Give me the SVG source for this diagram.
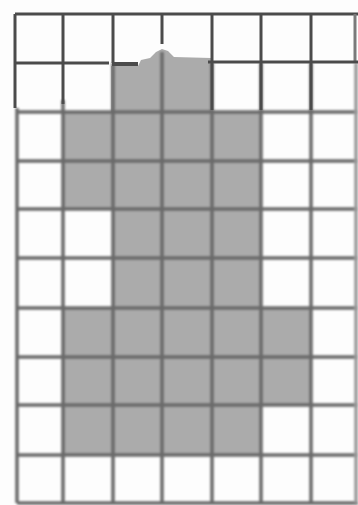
<svg xmlns="http://www.w3.org/2000/svg" width="358" height="505" viewBox="0 0 358 505">
  <defs>
    <filter id="soft" x="-5%" y="-5%" width="110%" height="110%">
      <feGaussianBlur stdDeviation="1.1"/>
    </filter>
    <filter id="softer" x="-5%" y="-5%" width="110%" height="110%">
      <feGaussianBlur stdDeviation="0.6"/>
    </filter>
  </defs>
  <style>
    .cell { fill: #ababab; }
    .grid { stroke: #6a6a6a; stroke-width: 3.5; fill: none; }
    .top { stroke: #4c4c4c; stroke-width: 3; fill: none; }
  </style>
  <rect x="0" y="0" width="358" height="505" fill="#fdfdfd"/>
  <g id="shaded-cells" filter="url(#softer)">
    <polygon class="cell" points="111,66 138,66 141,60 150,58 156,52 162,49 168,51 174,57 211,58 211,112 111,112"/>
    <rect class="cell" x="63" y="112" width="198" height="49"/>
    <rect class="cell" x="63" y="161" width="198" height="48"/>
    <rect class="cell" x="113" y="209" width="148" height="49"/>
    <rect class="cell" x="113" y="258" width="148" height="50"/>
    <rect class="cell" x="63" y="308" width="248" height="49"/>
    <rect class="cell" x="63" y="357" width="248" height="48"/>
    <rect class="cell" x="63" y="405" width="198" height="50"/>
  </g>
  <g id="lower-grid" class="grid" filter="url(#soft)">
    <path d="M17,112 H358 M17,161 H358 M17,209 H358 M17,258 H358 M17,308 H358 M17,357 H358 M17,405 H358 M17,455 H358 M17,503 H358"/>
    <path d="M17,108 V503 M63,100 V503 M113,63 V503 M162,52 V503 M212,63 V503 M261,63 V503 M311,63 V503"/>
    <path d="M356,63 V503" stroke="#9a9a9a"/>
  </g>
  <g id="top-grid" class="top" filter="url(#softer)">
    <path d="M15,14 H358"/>
    <path d="M15,14 V108"/>
    <path d="M63,14 V104"/>
    <path d="M113,14 V63"/>
    <path d="M162,14 V44"/>
    <path d="M212,14 V110"/>
    <path d="M261,14 V110"/>
    <path d="M311,14 V110"/>
    <path d="M355,14 V62" stroke="#7a7a7a"/>
    <path d="M15,63 H109"/>
    <path d="M112,64 H138" stroke-width="4"/>
    <path d="M208,62 H358"/>
  </g>
</svg>
